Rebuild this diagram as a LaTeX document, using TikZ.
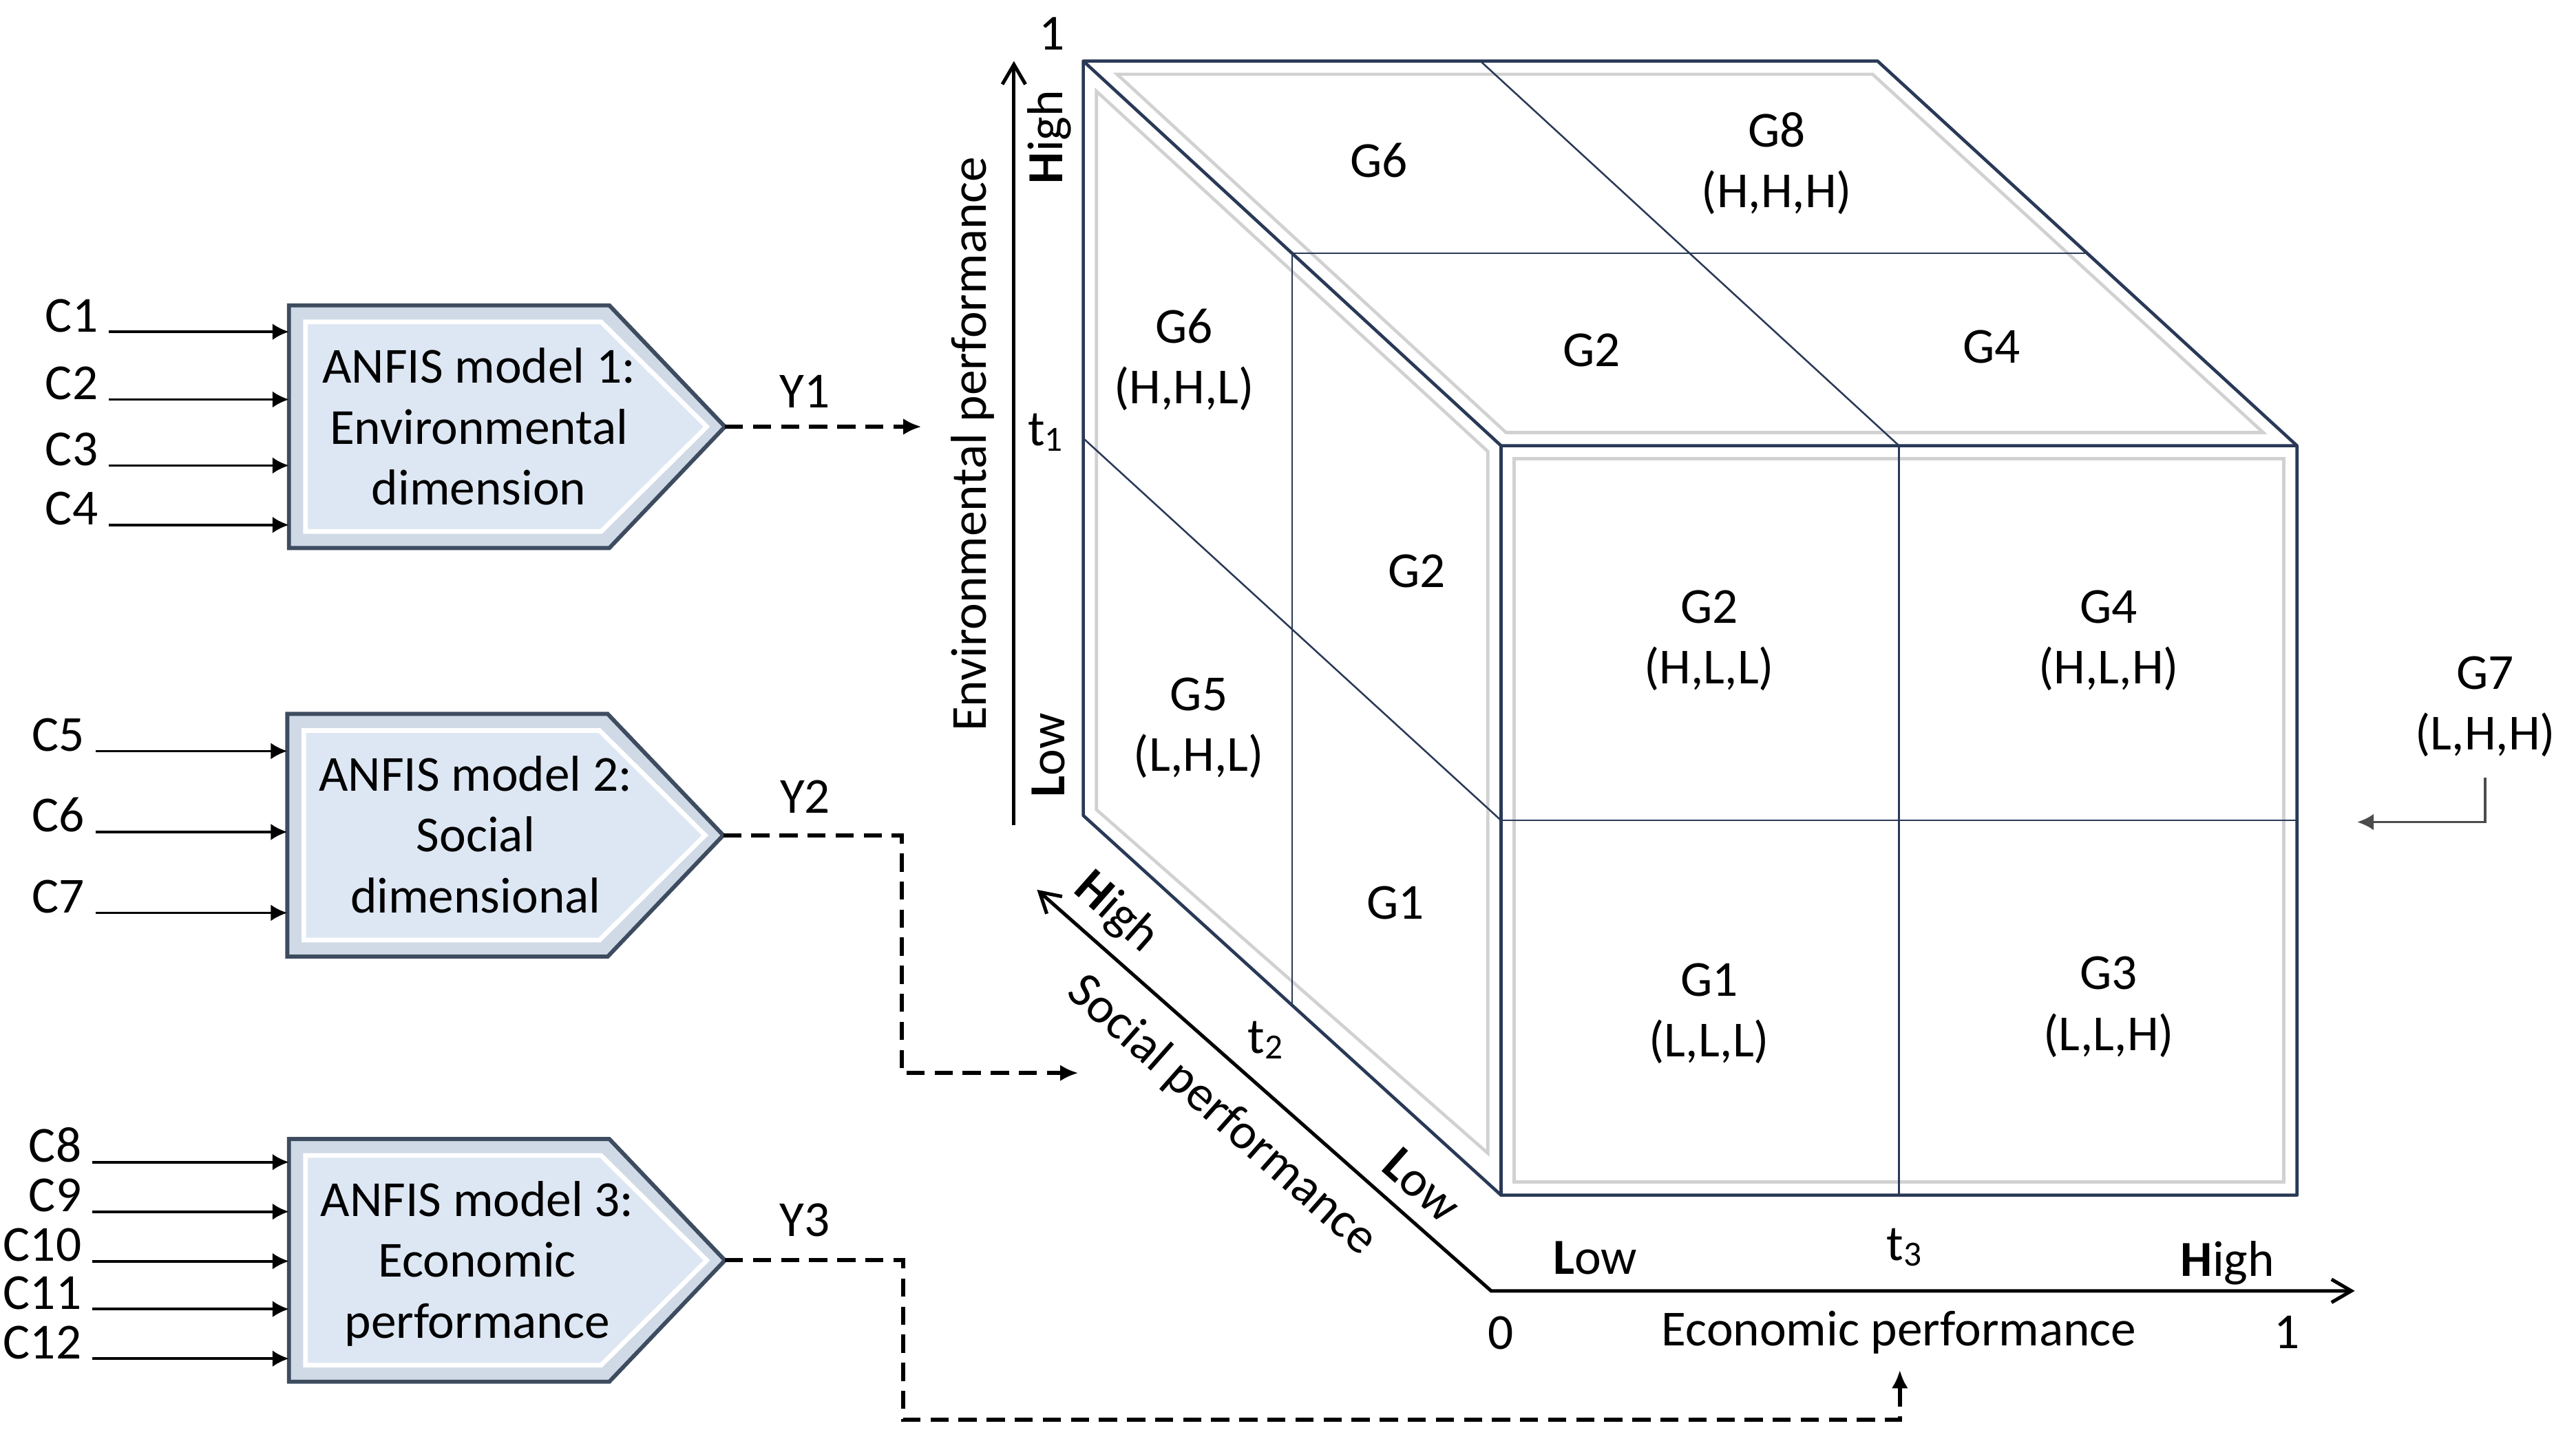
\documentclass[tikz,border=0pt]{standalone}
\usepackage{fontspec}
\setmainfont{Carlito}
\usetikzlibrary{calc,arrows.meta}
\definecolor{cubeedge}{RGB}{41,57,87}
\definecolor{boxedge}{RGB}{62,76,96}
\definecolor{boxband}{RGB}{208,218,231}
\definecolor{boxfill}{RGB}{221,231,243}
\def\anfisbox(#1,#2)#3{%
  \coordinate (#3) at (#1,#2);
  \coordinate (#3w) at ($(#3)+(-2.64,0)$);
  \draw[boxouter] (#3) -- ++(-0.70,0.735) -- ++(-1.94,0) -- ++(0,-1.47) -- ++(1.94,0) -- cycle;
  \draw[boxinner] ($(#3)+(-0.11,0)$) -- ++(-0.64,0.635) -- ++(-1.79,0) -- ++(0,-1.27) -- ++(1.79,0) -- cycle;
}

\begin{document}
\begin{tikzpicture}[
  font=\fontsize{8.7pt}{10.5pt}\selectfont,
  >={Straight Barb[length=1.2mm,width=1.4mm]},
  boxouter/.style={fill=boxband, draw=boxedge, line width=0.7pt, line join=miter},
  boxinner/.style={fill=boxfill, draw=white, line width=0.8pt},
  inlabel/.style={anchor=base east, inner xsep=0.6mm},
  inarrow/.style={-{Latex[length=1mm,width=1mm]}, line width=0.45pt},
  outarrow/.style={-{Latex[length=1.1mm,width=1mm]}, line width=0.7pt, dash pattern=on 1.1mm off 0.6mm},
  cell/.style={align=center},
  faceedge/.style={draw=cubeedge, line width=0.55pt, line join=round},
  gridline/.style={draw=cubeedge, line width=0.3pt},
  bevel/.style={draw=black!18, line width=0.55pt},
  axisline/.style={line width=0.6pt},
  axislabel/.style={inner sep=1pt},
  gsevenarrow/.style={draw=black!70, line width=0.4pt, -{Latex[length=1mm,width=1mm]}}
]
  %%%%% START %%%%%
  \path[use as bounding box, fill=white] (0,0) rectangle (15.6,8.78);

  % ANFIS models
  \anfisbox(4.39,6.195){tipa}
  \anfisbox(4.38,3.72){tipb}
  \anfisbox(4.39,1.145){tipc}

  \node[align=center] (anfisa) at (2.90,6.195) {ANFIS model 1:\\Environmental\\dimension};
  \node[align=center] (anfisb) at (2.88,3.725) {ANFIS model 2:\\Social\\dimensional};
  \node[align=center] (anfisc) at (2.89,1.125) {ANFIS model 3:\\Economic\\performance};

  \foreach \lab/\ypos in {C1/6.77,C2/6.36,C3/5.96,C4/5.60}{
    \node[inlabel] (\lab) at (0.66,\ypos) {\lab};
    \draw[inarrow] (\lab.base east) -- (\lab.base east -| tipaw);
  }
  \foreach \lab/\ypos in {C5/4.23,C6/3.74,C7/3.25}{
    \node[inlabel] (\lab) at (0.58,\ypos) {\lab};
    \draw[inarrow] (\lab.base east) -- (\lab.base east -| tipbw);
  }
  \foreach \lab/\ypos in {C8/1.74,C9/1.44,C10/1.14,C11/0.85,C12/0.55}{
    \node[inlabel] (\lab) at (0.56,\ypos) {\lab};
    \draw[inarrow] (\lab.base east) -- (\lab.base east -| tipcw);
  }

  % outputs
  \node (ya) at (4.875,6.41) {Y1};
  \node (yb) at (4.876,3.954) {Y2};
  \node (yc) at (4.875,1.39) {Y3};
  \coordinate (yaend) at (5.58,6.195);
  \coordinate (ybend) at (6.53,2.28);
  \coordinate (ycend) at (11.505,0.48);
  \draw[outarrow] (tipa) -- (yaend);
  \draw[outarrow] (tipb) -- ++(1.08,0) |- (ybend);
  \draw[outarrow] (tipc) -- ++(1.08,0) -- ++(0,-0.965) -| (ycend);

  % cube
  \coordinate (bl) at (6.56,8.41);
  \coordinate (br) at (11.37,8.41);
  \coordinate (fr) at (13.91,6.08);
  \coordinate (fl) at (9.09,6.08);
  \coordinate (flb) at (9.09,1.54);
  \coordinate (frb) at (13.91,1.54);
  \coordinate (blb) at (6.56,3.84);

  \draw[bevel] (6.765,8.33) -- (11.34,8.33) -- (13.705,6.16) -- (9.12,6.16) -- cycle;
  \draw[bevel] (6.64,8.227) -- (9.01,6.045) -- (9.01,1.794) -- (6.64,3.875) -- cycle;
  \draw[bevel] (9.17,6.00) rectangle (13.83,1.62);

  \draw[faceedge] (blb) -- (bl) -- (br) -- (fr) -- (frb) -- (flb) -- cycle;
  \draw[faceedge] (bl) -- (fl) -- (fr) (fl) -- (flb);

  \draw[gridline] ($(bl)!0.5!(br)$) -- ($(fl)!0.5!(fr)$);
  \draw[gridline] ($(bl)!0.5!(fl)$) -- ($(br)!0.5!(fr)$);
  \draw[gridline] ($(bl)!0.5!(fl)$) -- ($(blb)!0.5!(flb)$);
  \draw[gridline] ($(bl)!0.5!(blb)$) -- ($(fl)!0.5!(flb)$);
  \draw[gridline] ($(fl)!0.5!(fr)$) -- ($(flb)!0.5!(frb)$);
  \draw[gridline] ($(fl)!0.5!(flb)$) -- ($(fr)!0.5!(frb)$);

  \node[cell] (gsixtop) at (8.35,7.81) {G6};
  \node[cell] (geight) at (10.76,7.79) {G8\\(H,H,H)};
  \node[cell] (gtwotop) at (9.64,6.66) {G2};
  \node[cell] (gfourtop) at (12.06,6.68) {G4};
  \node[cell] (gsixleft) at (7.17,6.60) {G6\\(H,H,L)};
  \node[cell] (gtwoleft) at (8.58,5.32) {G2};
  \node[cell] (gfive) at (7.26,4.37) {G5\\(L,H,L)};
  \node[cell] (goneleft) at (8.45,3.31) {G1};
  \node[cell] (gtwo) at (10.35,4.90) {G2\\(H,L,L)};
  \node[cell] (gfour) at (12.77,4.90) {G4\\(H,L,H)};
  \node[cell] (gone) at (10.35,2.64) {G1\\(L,L,L)};
  \node[cell] (gthree) at (12.77,2.68) {G3\\(L,L,H)};

  \node[cell] (gseven) at (15.05,4.50) {G7\\(L,H,H)};
  \coordinate (gsevenend) at (14.275,3.80);
  \draw[gsevenarrow] (gseven.south) |- (gsevenend);

  % axes
  \coordinate (envlow) at (6.14,3.78);
  \coordinate (envtop) at (6.14,8.41);
  \coordinate (origin) at (9.03,0.96);
  \coordinate (soctop) at (6.28,3.39);
  \coordinate (ecotop) at (14.26,0.96);
  \draw[axisline, ->] (envlow) -- (envtop);
  \draw[axisline, <->] (soctop) -- (origin) -- (ecotop);

  \node[axislabel] (envone) at (6.37,8.576) {1};
  \node[axislabel, rotate=90] (envhigh) at (6.355,7.95) {\textbf{H}igh};
  \node[axislabel] (tone) at (6.34,6.16) {t\textsubscript{1}};
  \node[axislabel, rotate=90] (envlowlab) at (6.35,4.205) {\textbf{L}ow};
  \node[axislabel, rotate=90] (envtitle) at (5.89,6.09) {Environmental performance};

  \node[axislabel, rotate=-41.5] (sochigh) at (6.76,3.25) {\textbf{H}igh};
  \node[axislabel] (ttwo) at (7.67,2.48) {t\textsubscript{2}};
  \node[axislabel, rotate=-41.5] (soclow) at (8.61,1.60) {\textbf{L}ow};
  \node[axislabel, rotate=-41.5] (soctitle) at (7.40,2.02) {Social performance};

  \node[axislabel] (ecolow) at (9.66,1.16) {\textbf{L}ow};
  \node[axislabel] (tthree) at (11.54,1.224) {t\textsubscript{3}};
  \node[axislabel] (ecohigh) at (13.49,1.13) {\textbf{H}igh};
  \node[axislabel] (ecozero) at (9.09,0.705) {0};
  \node[axislabel] (ecotitle) at (11.50,0.71) {Economic performance};
  \node[axislabel] (ecoone) at (13.85,0.71) {1};
  %%%%% END %%%%%
\end{tikzpicture}
\end{document}
